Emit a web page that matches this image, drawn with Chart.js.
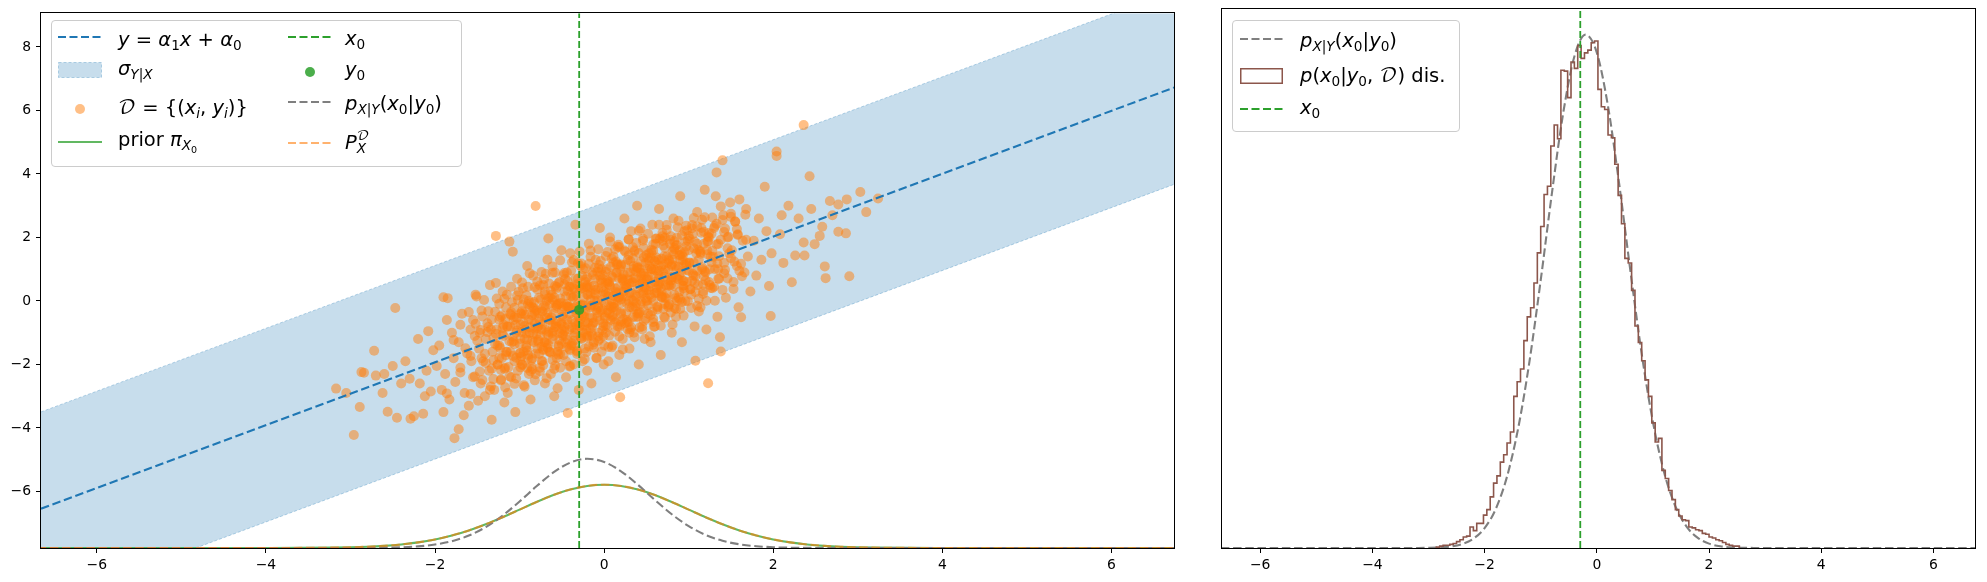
<!DOCTYPE html>
<html>
<head>
<meta charset="utf-8">
<script src="https://cdn.jsdelivr.net/npm/chart.js@4.4.1/dist/chart.umd.min.js"></script>
<style>
  body { margin:0; width:1987px; height:582px; background:#fff; overflow:hidden; position:relative; }
  canvas { position:absolute; top:0; }
  .leg { position:absolute; border:1px solid #cccccc; border-radius:4px; background:rgba(255,255,255,0.8); box-sizing:border-box; }
  .lt { position:absolute; font-family:'DejaVu Sans'; font-size:19.5px; line-height:24px; white-space:nowrap; color:#000; }
  .lt sub { font-size:70%; vertical-align:-0.28em; line-height:0; }
  .lt sup { font-size:70%; vertical-align:0.5em; line-height:0; }
  .cal { font-family:'DejaVu Math TeX Gyre','DejaVu Sans'; font-style:normal; }
  .hd { position:absolute; }
</style>
</head>
<body>
<canvas id="left" width="1190" height="582" style="left:0;width:1190px;height:582px"></canvas>
<canvas id="right" width="797" height="582" style="left:1190px;width:797px;height:582px"></canvas>

<div class="leg" style="left:51px;top:20px;width:411px;height:147px"></div>
<svg class="hd" style="left:58px;top:32px" width="44" height="10"><line x1="0" y1="5" x2="44" y2="5" stroke="#1f77b4" stroke-width="2.1" stroke-dasharray="8,3.5"/></svg>
<div class="lt" style="left:118px;top:28px"><i>y</i> = <i>α</i><sub>1</sub><i>x</i> + <i>α</i><sub>0</sub></div>
<svg class="hd" style="left:58px;top:62px" width="44" height="16"><rect x="0.5" y="0.5" width="43" height="15" fill="rgba(31,119,180,0.25)" stroke="rgba(31,119,180,0.3)" stroke-dasharray="3,2"/></svg>
<div class="lt" style="left:118px;top:57px"><i>σ</i><sub><i>Y</i>|<i>X</i></sub></div>
<svg class="hd" style="left:58px;top:99px" width="44" height="20"><circle cx="22" cy="10" r="5" fill="rgba(255,127,14,0.5)"/></svg>
<div class="lt" style="left:118px;top:96px"><span class="cal">𝒟</span> = {(<i>x</i><sub><i>i</i></sub>, <i>y</i><sub><i>i</i></sub>)}</div>
<svg class="hd" style="left:58px;top:137px" width="44" height="10"><line x1="0" y1="5" x2="44" y2="5" stroke="rgba(44,160,44,0.75)" stroke-width="2.1"/></svg>
<div class="lt" style="left:118px;top:128px">prior <i>π</i><sub><i>X</i><sub>0</sub></sub></div>

<svg class="hd" style="left:288px;top:32px" width="44" height="10"><line x1="0" y1="5" x2="44" y2="5" stroke="#2ca02c" stroke-width="2.1" stroke-dasharray="8,3.5"/></svg>
<div class="lt" style="left:345px;top:27px"><i>x</i><sub>0</sub></div>
<svg class="hd" style="left:288px;top:62px" width="44" height="20"><circle cx="22" cy="10" r="5" fill="rgba(44,160,44,0.85)"/></svg>
<div class="lt" style="left:345px;top:58px"><i>y</i><sub>0</sub></div>
<svg class="hd" style="left:288px;top:97px" width="44" height="10"><line x1="0" y1="5" x2="44" y2="5" stroke="#7f7f7f" stroke-width="2.1" stroke-dasharray="8,3.5"/></svg>
<div class="lt" style="left:345px;top:92px"><i>p</i><sub><i>X</i>|<i>Y</i></sub>(<i>x</i><sub>0</sub>|<i>y</i><sub>0</sub>)</div>
<svg class="hd" style="left:288px;top:138px" width="44" height="10"><line x1="0" y1="5" x2="44" y2="5" stroke="rgba(255,127,14,0.6)" stroke-width="2.1" stroke-dasharray="8,3.5"/></svg>
<div class="lt" style="left:345px;top:130px"><i>P</i><span style="display:inline-block;vertical-align:-0.35em;line-height:0.9;font-size:70%"><span class="cal" style="display:block">𝒟</span><i style="display:block">X</i></span></div>

<div class="leg" style="left:1232px;top:20px;width:228px;height:112px"></div>
<svg class="hd" style="left:1240px;top:34px" width="43" height="10"><line x1="0" y1="5" x2="43" y2="5" stroke="#7f7f7f" stroke-width="2.1" stroke-dasharray="8,3.5"/></svg>
<div class="lt" style="left:1300px;top:29px"><i>p</i><sub><i>X</i>|<i>Y</i></sub>(<i>x</i><sub>0</sub>|<i>y</i><sub>0</sub>)</div>
<svg class="hd" style="left:1240px;top:68px" width="43" height="16"><rect x="0.75" y="0.75" width="41.5" height="14.5" fill="none" stroke="#8c564b" stroke-width="1.5"/></svg>
<div class="lt" style="left:1300px;top:64px"><i>p</i>(<i>x</i><sub>0</sub>|<i>y</i><sub>0</sub>, <span class="cal">𝒟</span>) dis.</div>
<svg class="hd" style="left:1240px;top:104px" width="43" height="10"><line x1="0" y1="5" x2="43" y2="5" stroke="#2ca02c" stroke-width="2.1" stroke-dasharray="8,3.5"/></svg>
<div class="lt" style="left:1300px;top:96px"><i>x</i><sub>0</sub></div>

<script>
// ---- values ----
const xTicks = [-6, -4, -2, 0, 2, 4, 6];
const yTicks = [-6, -4, -2, 0, 2, 4, 6, 8];

const alpha1 = 0.99, alpha0 = 0.05;   // regression line
const bandHalf = 3.05;                // sigma band half width
const x0 = -0.295, y0 = -0.28;

// density curves (prior N(0,1) and posterior p_X|Y) sampled at curveX
const curveX   = [-6.7,-6,-5,-4.5,-4,-3.6,-3.2,-3.0,-2.8,-2.6,-2.4,-2.2,-2.0,-1.8,-1.6,-1.4,-1.2,-1.0,-0.8,-0.6,-0.4,-0.2,0,0.2,0.4,0.6,0.8,1.0,1.2,1.4,1.6,1.8,2.0,2.2,2.4,2.6,2.8,3.0,3.2,3.6,4.0,4.5,5,6,6.8];
const priorDens = [0,0,0,0.00002,0.00013,0.0006,0.0024,0.0044,0.0079,0.0136,0.0224,0.0355,0.054,0.079,0.1109,0.1497,0.1942,0.242,0.2897,0.3332,0.3683,0.391,0.3989,0.391,0.3683,0.3332,0.2897,0.242,0.1942,0.1497,0.1109,0.079,0.054,0.0355,0.0224,0.0136,0.0079,0.0044,0.0024,0.0006,0.00013,0.00002,0,0,0];
const postDens  = [0,0,0,0,0,0.000006,0.00007,0.00022,0.00065,0.00177,0.0044,0.0102,0.0218,0.0429,0.0782,0.1315,0.2043,0.2931,0.3885,0.4757,0.538,0.5619,0.5422,0.4833,0.3979,0.3026,0.2126,0.1379,0.0827,0.0457,0.0234,0.0111,0.0048,0.0019,0.0007,0.00025,0.00008,0.00002,0,0,0,0,0,0,0];

// observed sample D = {(x_i, y_i)}: spread-out points
const samples = [
[-3.17,-2.76],[-3.05,-2.9],[-2.96,-4.22],[-2.89,-3.34],[-2.87,-2.24],[-2.84,-2.26],[-2.72,-1.57],[-2.7,-2.35],
[-2.62,-2.9],[-2.6,-2.3],[-2.56,-3.49],[-2.5,-2.05],[-2.47,-0.22],[-2.45,-3.68],[-2.4,-2.6],[-2.35,-1.9],[-2.3,-2.45],[-2.29,-3.71],[-2.25,-3.63],
[-2.2,-1.2],[-2.18,-2.6],[-2.14,-3.55],[-2.12,-3.0],[-2.1,-2.2],[-2.08,-0.95],[-2.05,-2.85],[-2.02,-1.55],
[-1.98,-2.05],[-1.95,-1.4],[-1.92,-2.8],[-1.9,0.12],[-1.9,-3.5],[-1.88,-2.3],[-1.86,-0.6],[-1.85,0.09],[-1.83,-3.1],[-1.8,-1.0],[-1.78,-1.8],[-1.77,-4.32],[-1.76,-2.55],[-1.72,-4.04],
[-1.72,-1.3],[-1.7,-2.1],[-1.7,-0.75],[-1.68,-0.4],[-1.66,-3.6],[-1.65,-2.9],[-1.62,-1.65],[-1.6,-3.3],[-1.58,-0.9],[-1.57,-1.9],[-1.55,-2.4],[-1.53,-1.1],[-1.52,0.2],
[-1.48,-1.5],[-1.47,-1.0],[-1.46,-2.6],[-1.45,-0.3],[-1.43,-1.9],[-1.41,-3.0],[-1.4,-1.2],[-1.38,-0.7],[-1.36,-2.2],[-1.35,0.5],[-1.33,-3.74],[-1.32,-1.6],[-1.3,-2.8],[-1.29,-1.35],[-1.28,2.05],[-1.27,-0.9],[-1.26,-2.0],
[-1.24,-1.4],[-1.23,-0.5],[-1.22,-2.5],[-1.21,-1.8],[-1.2,0.3],[-1.19,-1.1],[-1.18,-3.2],[-1.17,-2.1],[-1.16,-0.2],[-1.15,-1.6],[-1.14,-2.9],[-1.12,1.87],[-1.11,-0.8],[-1.1,-2.4],[-1.09,-1.3],[-1.08,1.55],[-1.07,-0.6],[-1.06,-1.9],[-1.05,-3.5],[-1.04,-1.0],[-1.03,0.7],[-1.02,-2.2],
[-0.99,-1.2],[-0.98,-0.4],[-0.98,-1.75],[-0.97,-2.0],[-0.96,0.4],[-0.95,-1.6],[-0.94,-2.7],[-0.93,-0.9],[-0.92,-1.4],[-0.91,1.1],[-0.9,-0.1],[-0.89,-2.3],[-0.88,-1.0],[-0.87,-3.1],[-0.86,-0.6],[-0.85,-1.8],[-0.85,-0.45],[-0.84,0.8],[-0.83,-1.3],[-0.82,-2.5],[-0.81,2.99],[-0.8,-0.3],[-0.79,-1.5],[-0.78,-0.8],[-0.77,0.1],[-0.76,-2.1],[-0.755,-1.1],
[-0.74,-0.9],[-0.73,-1.9],[-0.72,0.5],[-0.72,-1.55],[-0.71,-1.3],[-0.7,-2.6],[-0.69,-0.2],[-0.68,-1.0],[-0.68,0.0],[-0.67,1.3],[-0.66,1.97],[-0.65,-0.6],[-0.64,-1.6],[-0.63,-2.3],[-0.62,0.2],[-0.61,-1.2],[-0.6,-0.4],[-0.6,-0.95],[-0.59,-3.0],[-0.58,0.9],[-0.57,-0.8],[-0.56,-1.8],[-0.55,-0.1],[-0.55,-2.75],[-0.54,-1.4],[-0.53,0.6],[-0.52,-2.1],[-0.51,-0.7],[-0.505,1.6],
[-0.49,-0.5],[-0.48,-1.7],[-0.47,0.3],[-0.47,-0.95],[-0.46,-1.1],[-0.45,-2.4],[-0.44,0.9],[-0.44,-1.45],[-0.43,-3.53],[-0.42,-0.2],[-0.41,-0.9],[-0.41,0.45],[-0.4,1.5],[-0.39,-1.4],[-0.38,-0.6],[-0.37,0.1],[-0.36,-2.0],[-0.36,-1.25],[-0.35,-1.0],[-0.34,2.4],[-0.33,-0.3],[-0.32,-1.6],[-0.31,0.7],[-0.3,-2.8],[-0.3,-0.5],[-0.29,-0.8],[-0.28,1.1],[-0.27,-1.2],[-0.27,0.4],[-0.26,-0.1],[-0.255,-1.9],
[-0.24,-0.4],[-0.23,-1.5],[-0.22,0.6],[-0.22,-0.65],[-0.21,-0.9],[-0.2,-2.2],[-0.2,-1.1],[-0.19,0.2],[-0.18,1.8],[-0.17,-1.1],[-0.17,0.45],[-0.16,-0.2],[-0.15,-2.6],[-0.14,0.9],[-0.13,-0.7],[-0.12,-1.3],[-0.12,-0.15],[-0.11,0.0],[-0.1,1.3],[-0.09,-1.8],[-0.08,-0.5],[-0.07,0.4],[-0.07,-1.25],[-0.06,-1.0],[-0.05,2.3],[-0.04,-0.3],[-0.03,-1.6],[-0.03,1.0],[-0.02,0.7],[-0.01,-0.8],[-0.005,-2.0],
[0.01,0.2],[0.02,-1.0],[0.03,1.0],[0.04,-0.3],[0.04,0.55],[0.05,-1.9],[0.06,0.6],[0.06,-0.15],[0.07,2.0],[0.08,-0.6],[0.09,0.0],[0.1,-1.4],[0.1,-0.45],[0.11,1.4],[0.12,-0.2],[0.13,0.4],[0.14,-2.4],[0.15,0.9],[0.15,0.25],[0.16,-0.8],[0.17,0.1],[0.18,1.7],[0.18,-1.7],[0.19,-3.03],[0.2,-0.4],[0.2,1.15],[0.21,0.7],[0.22,-1.2],[0.23,0.3],[0.24,2.6],[0.245,-0.7],
[0.26,0.5],[0.27,-0.6],[0.28,1.3],[0.28,-0.9],[0.29,0.0],[0.3,-1.5],[0.3,0.25],[0.31,0.9],[0.32,2.2],[0.33,-0.2],[0.34,0.6],[0.35,-1.0],[0.35,1.1],[0.36,1.6],[0.37,0.2],[0.38,-0.5],[0.39,3.0],[0.4,0.4],[0.41,-2.0],[0.42,1.0],[0.42,-0.35],[0.43,-0.1],[0.44,0.8],[0.45,-0.8],[0.45,0.55],[0.46,1.9],[0.47,0.3],[0.48,-1.2],[0.49,1.2],[0.495,0.0],
[0.51,0.7],[0.52,-0.4],[0.53,1.5],[0.54,0.2],[0.55,-1.3],[0.55,0.45],[0.56,1.0],[0.57,2.4],[0.58,0.0],[0.59,0.8],[0.6,-0.8],[0.6,1.25],[0.61,1.8],[0.62,0.4],[0.63,-0.2],[0.64,1.3],[0.65,2.9],[0.66,0.6],[0.67,-1.7],[0.68,1.1],[0.68,0.3],[0.69,0.1],[0.7,0.9],[0.71,-0.5],[0.72,2.0],[0.72,-0.1],[0.73,0.5],[0.74,1.4],
[0.76,1.0],[0.77,-0.1],[0.78,1.8],[0.79,0.5],[0.8,-1.0],[0.8,0.75],[0.81,1.3],[0.82,2.6],[0.83,0.2],[0.84,1.1],[0.85,-0.5],[0.86,2.0],[0.87,0.7],[0.88,0.1],[0.89,1.6],[0.9,3.3],[0.9,-0.25],[0.91,0.9],[0.92,-1.3],[0.93,1.4],[0.94,0.4],[0.95,2.2],[0.95,1.55],[0.96,0.0],[0.97,1.2],[0.98,0.6],[0.99,1.9],
[1.01,1.2],[1.03,0.2],[1.05,2.1],[1.06,0.8],[1.07,-0.8],[1.08,-1.88],[1.09,1.5],[1.1,2.8],[1.11,0.5],[1.12,1.3],[1.14,-0.2],[1.15,2.3],[1.16,1.0],[1.17,0.3],[1.18,1.8],[1.19,3.5],[1.2,0.9],[1.21,-0.9],[1.22,1.6],[1.23,-2.59],[1.24,0.6],[1.24,2.0],
[1.26,1.4],[1.28,0.4],[1.3,2.3],[1.31,1.0],[1.32,3.3],[1.33,4.05],[1.34,-0.5],[1.35,1.8],[1.36,0.7],[1.37,-1.14],[1.38,-1.59],[1.4,4.43],[1.41,2.7],[1.42,1.2],[1.44,0.1],[1.46,2.0],[1.48,1.5],[1.49,3.1],
[1.51,1.6],[1.53,0.6],[1.55,2.5],[1.57,1.1],[1.58,2.1],[1.59,-0.2],[1.6,3.2],[1.62,-0.51],[1.64,1.9],[1.66,0.9],[1.68,2.9],[1.7,1.4],[1.73,0.3],
[1.77,1.9],[1.8,0.8],[1.83,2.6],[1.86,1.3],[1.9,3.6],[1.92,2.2],[1.95,0.47],[1.97,-0.47],[1.98,1.5],
[2.04,4.71],[2.04,4.57],[2.08,2.1],[2.1,2.7],[2.12,1.2],[2.18,3.0],[2.22,0.59],
[2.26,1.43],[2.3,2.6],[2.36,1.84],[2.36,5.54],[2.37,1.43],[2.43,3.93],[2.45,2.9],[2.49,1.79],
[2.55,2.05],[2.58,2.34],[2.61,1.09],[2.62,0.72],[2.67,3.15],[2.7,2.7],
[2.77,2.18],[2.77,3.04],[2.86,2.13],[2.87,3.2],[2.9,0.78],[3.03,3.43],[3.1,2.8],[3.24,3.23]
];

// observed sample D: the dense core of the cloud
const samplesCore = [
[-1.34,-0.89],[-1.31,-1.86],[-1.29,-0.34],[-1.26,-1.41],[-1.24,-0.59],[-1.22,-2.17],[-1.2,-1.05],[-1.18,0.07],[-1.16,-1.61],[-1.14,-0.81],
[-1.12,-2.37],[-1.1,-0.35],[-1.08,-1.13],[-1.06,-0.51],[-1.04,-1.79],[-1.02,0.03],[-1.0,-1.35],[-0.99,-0.74],[-0.97,-2.02],[-0.96,-0.11],
[-0.94,-1.19],[-0.93,-0.43],[-0.91,-1.56],[-0.9,0.45],[-0.88,-0.83],[-0.87,-2.22],[-0.85,-0.2],[-0.84,-1.04],[-0.82,-0.42],[-0.81,-1.66],
[-0.79,0.36],[-0.78,-1.28],[-0.77,-0.57],[-0.75,0.05],[-0.74,-1.89],[-0.73,-0.73],[-0.71,-0.16],[-0.7,-1.3],[-0.69,0.86],[-0.67,-0.37],
[-0.66,-0.96],[-0.65,-1.6],[-0.63,0.32],[-0.62,-0.52],[-0.61,-1.01],[-0.59,0.11],[-0.58,-2.03],[-0.57,-0.22],[-0.55,-0.65],[-0.54,0.56],
[-0.53,-1.23],[-0.51,-0.06],[-0.5,-0.75],[-0.49,-0.44],[-0.48,0.82],[-0.46,-1.31],[-0.45,0.15],[-0.44,-0.59],[-0.42,-0.17],[-0.41,-1.51],
[-0.4,0.45],[-0.38,-0.83],[-0.37,-0.22],[-0.36,1.29],[-0.34,-0.89],[-0.33,0.17],[-0.32,-1.57],[-0.3,-0.3],[-0.29,0.46],[-0.28,-0.58],
[-0.26,0.79],[-0.25,-1.0],[-0.24,0.11],[-0.22,-0.32],[-0.21,0.44],[-0.2,-1.15],[-0.18,1.17],[-0.17,-0.52],[-0.16,0.04],[-0.14,-0.79],
[-0.13,0.82],[-0.12,-1.47],[-0.1,0.35],[-0.09,-0.29],[-0.08,0.02],[-0.06,1.14],[-0.05,-0.6],[-0.04,0.66],[-0.02,-0.92],[-0.01,0.29],
[0.0,-0.05],[0.02,0.92],[0.03,-0.37],[0.04,1.54],[0.06,-1.09],[0.07,0.47],[0.08,-0.17],[0.1,0.75],[0.11,0.16],[0.12,-0.58],
[0.14,1.24],[0.15,-0.3],[0.16,0.41],[0.18,-0.82],[0.19,0.99],[0.2,0.05],[0.22,0.72],[0.23,-0.57],[0.24,1.59],[0.26,0.41],
[0.27,-0.08],[0.28,0.88],[0.3,-1.0],[0.31,1.26],[0.32,0.27],[0.34,0.69],[0.35,-0.25],[0.36,1.56],[0.38,0.13],[0.39,1.09],
[0.4,-0.5],[0.42,0.52],[0.43,0.88],[0.44,-0.01],[0.46,1.96],[0.47,-0.63],[0.48,0.78],[0.5,0.35],[0.51,1.36],[0.52,-0.13],
[0.54,1.09],[0.55,0.55],[0.56,1.61],[0.58,-0.67],[0.59,0.99],[0.6,0.25],[0.62,1.37],[0.63,-0.17],[0.64,0.84],[0.66,1.96],
[0.67,0.42],[0.68,1.33],[0.7,-0.25],[0.71,0.76],[0.72,1.67],[0.74,0.24],[0.75,1.2],[0.76,0.66],[0.78,1.93],[0.79,-0.36],
[0.8,1.1],[0.82,0.47],[0.83,1.63],[0.84,0.09],[0.86,1.01],[0.87,2.32],[0.88,0.68],[0.9,1.45],[0.92,-0.03],[0.93,1.28],
[0.94,0.49],[0.96,1.86],[0.98,0.98],[1.0,1.6],[1.02,0.37],[1.04,2.29],[1.06,1.21],[1.08,0.78],[1.1,1.8],[1.12,0.07],
[1.14,1.54],[1.16,1.06],[1.18,2.18],[1.2,0.65],[1.22,1.47],[1.25,1.0],[1.27,2.12],[1.3,0.45],[1.33,1.78],[1.36,1.41],
[1.4,2.55],[1.43,0.98],[1.47,2.02],[1.5,1.35],[1.55,2.5],[1.6,0.95],
[-0.98,-0.98],[-0.95,0.05],[-0.92,-1.47],[-0.89,-0.59],[-0.86,-1.86],[-0.83,-0.23],[-0.8,-1.05],[-0.76,0.49],[-0.72,-1.52],[-0.68,-0.53],
[-0.64,0.11],[-0.6,-1.1],[-0.56,-0.16],[-0.52,-1.67],[-0.47,0.53],[-0.43,-0.73],[-0.39,0.16],[-0.35,-1.1],[-0.31,-0.11],[-0.27,1.18],
[-0.23,-0.78],[-0.19,0.41],[-0.15,-0.15],[-0.11,0.69],[-0.07,-1.12],[-0.03,0.42],[0.01,-0.49],[0.05,0.25],[0.09,1.34],[0.13,-0.67],
[0.17,0.72],[0.21,-0.04],[0.25,1.15],[0.29,-0.66],[0.33,0.58],[0.37,-0.18],[0.41,1.51],[0.45,0.6],[0.49,0.09],[0.53,1.28],
[0.57,-0.33],[0.61,0.96],[0.65,0.5],[0.69,2.04],[0.73,0.08],[0.77,1.27],[0.81,0.76],[0.85,1.75],[0.89,0.29],[0.95,1.15],
[-0.99,-0.39],[-0.9,-1.8],[-0.82,-0.72],[-0.74,-0.24],[-0.66,-1.36],[-0.58,0.47],[-0.5,-0.9],[-0.44,-0.09],[-0.38,-1.33],[-0.32,0.53],
[-0.26,-0.46],[-0.2,0.2],[-0.14,-0.54],[-0.08,0.92],[-0.02,-0.27],[0.04,0.64],[0.1,-0.5],[0.16,1.16],[0.22,0.17],[0.28,0.68],
[0.34,-0.51],[0.4,1.05],[0.46,0.26],[0.52,0.77],[0.58,1.78],[0.64,0.24],[0.7,1.15],[0.76,-0.14],[0.82,1.47],[0.88,1.08],
[0.94,0.64],[1.0,2.05],[1.05,0.85],[1.11,1.61],[1.17,0.52],[1.23,2.03],[1.29,1.39],[1.35,1.0],[1.42,2.17],
[-1.05,-0.75],[-1.11,-1.61],[-1.17,-0.57],[-1.23,-1.48],[-1.28,-1.03],[-1.33,-2.13],[-1.38,-0.98],[-1.45,-1.8],[-1.52,-0.72],[-1.58,-1.73],
[-1.64,-1.49],[-1.7,-2.25],[-1.78,-1.23],[-1.86,-2.91],
[-1.5,-1.25],[-1.47,-2.22],[-1.44,-0.49],[-1.41,-1.66],[-1.37,-0.82],[-1.34,-2.69],[-1.31,-1.16],[-1.27,0.08],[-1.24,-1.79],[-1.21,-0.46],
[-1.18,-2.13],[-1.15,-0.8],[-1.12,-1.27],[-1.09,-0.04],[-1.06,-2.61],[-1.03,-0.53],[-1.0,-1.65],[-0.97,0.58],[-0.94,-0.79],[-0.91,-2.11],
[-0.88,-0.18],[-0.85,-1.25],[-0.82,0.43],[-0.79,-0.84],[-0.76,-2.21],[-0.73,-0.33],[-0.7,0.3],[-0.67,-1.47],[-0.64,-0.59],[-0.61,1.09],
[-0.58,-0.83],[-0.55,-1.6],[-0.52,0.08],[-0.49,-1.04],[-0.46,0.69],[-0.43,-0.18],[-0.4,-2.05],[-0.37,0.43],[-0.34,-0.69],[-0.31,1.19],
[-0.28,-1.13],[-0.25,-0.15],[-0.22,0.68],[-0.19,-0.69],[-0.16,1.59],[-0.13,-1.38],[-0.1,0.2],[-0.07,-0.22],[-0.04,1.26],[-0.01,-0.71],
[0.02,0.57],[0.05,-1.45],[0.08,1.08],[0.11,-0.19],[0.14,0.29],[0.17,1.77],[0.2,-0.65],[0.23,0.63],[0.26,0.16],[0.29,1.44],
[0.32,-0.83],[0.35,1.0],[0.38,-0.07],[0.41,2.21],[0.44,0.69],[0.47,-0.28],[0.5,1.45],[0.53,0.33],[0.56,1.01],[0.59,-0.81],
[0.62,1.97],[0.65,0.7],[0.68,0.13],[0.71,1.41],[0.74,2.39],[0.77,0.47],[0.8,1.15],[0.83,-0.22],[0.86,1.76],[0.89,0.79],
[0.92,1.47],[0.95,0.3],[0.98,2.23],[1.01,1.21],[1.04,0.64],[1.07,1.87],[1.1,-0.15],[1.13,1.58],[1.16,2.56],[1.19,0.94],
[1.22,1.87],[1.25,0.5],[1.28,1.58],[1.31,2.36],[1.34,1.19],[1.38,1.93],[1.42,0.87],[1.46,1.66],[1.5,2.65],[1.54,1.24],
[1.58,2.08],[1.63,0.78],[1.68,1.93],
[-1.1,-0.45],[-1.06,-1.36],[-1.03,0.17],[-0.99,-1.89],[-0.96,-0.66],[-0.92,-1.02],[-0.89,0.01],[-0.85,-2.15],[-0.82,-0.32],[-0.78,-1.23],
[-0.75,-0.65],[-0.71,0.69],[-0.68,-1.33],[-0.64,-0.09],[-0.61,-0.76],[-0.57,0.38],[-0.54,-1.44],[-0.5,-0.3],[-0.47,-0.82],[-0.43,0.62],
[-0.4,-1.55],[-0.36,0.14],[-0.33,-0.38],[-0.29,0.36],[-0.26,-0.91],[-0.22,1.03],[-0.19,-0.14],[-0.15,-1.0],[-0.12,0.48],[-0.08,-0.38],
[-0.05,0.8],[-0.01,-1.11],[0.02,0.27],[0.06,-0.39],[0.09,0.79],[0.13,1.63],[0.16,0.01],[0.2,-0.75],[0.23,0.83],[0.27,0.42],
[0.3,-0.2],[0.34,1.69],[0.37,0.72],[0.41,-0.39],[0.44,1.24],[0.48,0.43],[0.51,1.01],[0.55,-0.45],[0.58,1.58],[0.62,0.27],
[0.65,0.95],[0.69,1.89],[0.72,0.12],[0.76,1.31],[0.79,0.64],[0.83,1.88],[0.86,0.01],[0.9,1.3],[0.93,0.63],[0.97,1.72],
[1.0,0.95],[1.04,2.39],[1.07,0.57],
[-0.7,-0.9],[-0.66,0.09],[-0.61,-1.86],[-0.57,-0.12],[-0.52,-1.02],[-0.48,-0.18],[-0.43,-1.23],[-0.39,0.96],[-0.34,-0.19],[-0.3,-0.7],
[-0.25,0.4],[-0.21,-1.61],[-0.16,0.24],[-0.12,-0.67],[-0.07,1.03],[-0.03,0.02],[0.02,-0.78],[0.06,0.51],[0.11,-0.09],[0.15,1.15],
[0.2,-0.35],[0.24,0.44],[0.29,1.94],[0.33,0.03],[0.38,0.93],[0.42,-0.83],[0.47,1.37],[0.51,0.66],[0.56,0.11],[0.6,1.25],
[0.65,0.55],[0.69,2.14]
];

// observed sample D: the outer rim of the dense cloud
const samplesRim = [
[-1.6,-0.35],[-1.58,-2.93],[-1.55,-0.6],[-1.53,-2.38],[-1.51,0.14],[-1.49,-3.14],[-1.46,-0.91],[-1.44,-2.49],[-1.42,0.03],[-1.4,-1.95],
[-1.37,-0.32],[-1.35,-2.8],[-1.33,-0.58],[-1.31,-2.46],[-1.28,0.57],[-1.26,-2.01],[-1.24,-0.09],[-1.22,-2.47],[-1.19,-0.75],[-1.17,-2.72],
[-1.15,0.2],[-1.13,-2.08],[-1.1,0.45],[-1.08,-1.73],[-1.06,-0.21],[-1.04,-2.44],[-1.01,0.29],[-0.99,-2.09],[-0.97,-0.32],[-0.95,-2.65],
[-0.92,0.18],[-0.9,-1.7],[-0.88,0.87],[-0.86,-2.06],[-0.83,-0.03],[-0.81,-2.31],[-0.79,0.61],[-0.77,-1.67],[-0.74,0.91],[-0.72,-2.02],
[-0.7,0.2],[-0.68,-2.43],[-0.65,0.55],[-0.63,-1.63],[-0.61,0.89],[-0.59,-2.14],[-0.56,0.44],[-0.54,-1.69],[-0.52,1.28],[-0.5,-1.35],
[-0.47,0.88],[-0.45,-1.9],[-0.43,0.32],[-0.41,-2.06],[-0.38,1.22],[-0.36,-1.41],[-0.34,0.71],[-0.32,-1.67],[-0.29,1.56],[-0.27,-1.17],
[-0.25,1.0],[-0.23,-1.83],[-0.2,0.75],[-0.18,-1.43],[-0.16,1.39],[-0.14,-1.09],[-0.11,1.04],[-0.09,-1.79],[-0.07,1.63],[-0.05,-1.2],
[-0.02,0.83],[0.0,-1.4],[0.02,1.42],[0.04,-0.81],[0.07,1.87],[0.09,-1.46],[0.11,1.21],[0.13,-0.97],[0.16,1.71],[0.18,-1.12],
[0.2,1.1],[0.22,-1.53],[0.25,1.55],[0.27,-0.68],[0.29,1.94],[0.31,-0.89],[0.34,1.34],[0.36,-1.14],[0.38,1.83],[0.4,-0.4],
[0.43,2.28],[0.45,-0.9],[0.47,1.67],[0.49,-0.56],[0.52,2.12],[0.54,-1.11],[0.56,1.51],[0.58,-0.57],[0.61,1.96],[0.63,-0.27],
[0.65,2.4],[0.67,-0.78],[0.7,1.75],[0.72,-0.53],[0.74,2.24],[0.76,-0.19],[0.79,2.04],[0.81,-0.74],[0.83,1.68],[0.85,-0.25],
[0.88,2.53],[0.9,0.05],[0.92,2.07],[0.94,-0.46],[0.97,2.37],[0.99,-0.01],[1.01,1.96],[1.03,-0.22],[1.06,2.61],[1.08,0.28],
[1.1,2.35],[1.12,-0.33],[1.15,2.15],[1.17,0.22],[1.19,2.64],[1.21,0.01],[1.24,2.14],[1.26,0.41],[1.28,2.63],[1.31,0.01],
[1.33,2.43],[1.35,0.7],[1.38,2.98],[1.4,0.35],[1.43,2.28],[1.46,0.71],[1.5,2.75],[1.53,0.38],[1.57,2.27],[1.62,1.17],
[1.67,2.72],
[-1.2,-0.85],[-1.16,-1.71],[-1.11,-0.41],[-1.07,-1.27],[-1.03,-0.93],[-0.99,-1.64],[-0.95,-0.4],[-0.91,-1.21],[-0.86,-0.06],[-0.82,-0.87],
[-0.78,-0.38],[-0.74,-1.44],[-0.7,-0.5],[-0.66,-1.06],[-0.61,0.04],[-0.57,-0.72],[-0.53,-0.08],[-0.49,-1.09],[-0.45,-0.15],[-0.41,-0.41],
[-0.36,0.39],[-0.32,-0.77],[-0.28,-0.13],[-0.24,-0.49],[-0.2,0.5],[-0.16,-0.86],[-0.11,0.24],[-0.07,-0.17],[-0.03,0.57],[0.01,-0.54],
[0.05,0.15],[0.09,-0.21],[0.14,0.89],[0.18,0.13],[0.22,0.67],[0.26,-0.39],[0.3,0.55],[0.35,0.0],[0.39,1.04],[0.43,0.23],
[0.47,0.87],[0.51,0.01],[0.55,1.35],[0.6,0.6],[0.64,1.14],[0.68,0.13],[0.72,0.97],[0.76,0.51],[0.81,1.56],[0.85,0.75],
[0.89,1.44],[0.93,0.48],[0.97,1.12],[1.02,0.37],[1.06,1.66],[1.1,0.95],[1.14,1.49],[1.18,0.78],[1.23,1.88],[1.27,1.22]
];

// histogram of p(x0 | y0, D) samples, density per bin
const histStart = -2.86, histWidth = 0.06;
const histHeights = [0.001,0.001,0.002,0.003,0.003,0.004,0.005,0.007,0.009,0.012,0.013,0.023,0.019,0.027,0.027,0.036,0.042,0.056,0.071,0.079,
  0.094,0.102,0.115,0.127,0.166,0.182,0.196,0.227,0.253,0.263,0.290,0.323,0.352,0.387,0.396,0.440,0.463,0.448,0.523,0.522,
  0.493,0.532,0.525,0.550,0.536,0.542,0.545,0.553,0.555,0.502,0.483,0.480,0.452,0.449,0.420,0.386,0.355,0.317,0.312,0.282,
  0.243,0.225,0.205,0.184,0.166,0.137,0.116,0.120,0.085,0.076,0.063,0.053,0.042,0.035,0.031,0.030,0.023,0.022,0.020,0.019,
  0.016,0.015,0.012,0.011,0.009,0.008,0.006,0.004,0.003,0.002];

// ---- chart setup ----
const leftX = [-6.66, 6.74], leftY = [-7.78, 9.06];
const rightX = [-6.68, 6.74], rightY = [0, 0.59];
const densScale = 5;   // densities drawn on the left panel scaled up from the bottom

const C = { blue:'#1f77b4', orange:'#ff7f0e', green:'#2ca02c', gray:'#7f7f7f', brown:'#8c564b' };
const DASH = [8.5, 3.7];
const LW = 2.1;
const tickFont = { family:'DejaVu Sans', size:13.9 };
const fmt = v => (v < 0 ? '\u2212' : '') + Math.abs(v);

const frame = {
  id: 'frame',
  afterDraw(chart) {
    const { ctx, chartArea: a } = chart;
    ctx.save();
    ctx.strokeStyle = '#000';
    ctx.lineWidth = 1;
    ctx.strokeRect(Math.round(a.left) - 0.5, Math.round(a.top) - 0.5,
                   Math.round(a.right - a.left) + 1, Math.round(a.bottom - a.top) + 1);
    ctx.restore();
  }
};

function axisX(range, ticks) {
  return {
    type: 'linear', min: range[0], max: range[1],
    afterBuildTicks: s => { s.ticks = ticks.map(v => ({ value: v })); },
    afterFit: s => { s.height = 34; },
    border: { display: false },
    grid: { drawOnChartArea: false, drawTicks: true, tickLength: 5, color: '#000', lineWidth: 1 },
    ticks: { color: '#000', font: tickFont, padding: 4, maxRotation: 0, autoSkip: false, callback: fmt }
  };
}

const line = (pts, color, extra) => Object.assign({
  data: pts, borderColor: color, borderWidth: LW, pointRadius: 0, fill: false, tension: 0
}, extra);

const lineAt = (x, off) => ({ x: x, y: alpha1 * x + alpha0 + off });
const allSamples = samples.concat(samplesCore, samplesRim);

// left panel
new Chart(document.getElementById('left'), {
  type: 'line',
  data: {
    datasets: [
      line([lineAt(leftX[0], bandHalf), lineAt(leftX[1], bandHalf)], 'rgba(31,119,180,0.3)',
           { borderWidth: 1, borderDash: [3, 2], order: 10 }),
      line([lineAt(leftX[0], -bandHalf), lineAt(leftX[1], -bandHalf)], 'rgba(31,119,180,0.3)',
           { borderWidth: 1, borderDash: [3, 2], fill: '-1', backgroundColor: 'rgba(31,119,180,0.25)', order: 10 }),
      { data: allSamples.map(p => ({ x: p[0], y: p[1] })), showLine: false, pointRadius: 5,
        pointBackgroundColor: 'rgba(255,127,14,0.5)', pointBorderWidth: 0, order: 9 },
      line([lineAt(leftX[0], 0), lineAt(leftX[1], 0)], C.blue, { borderDash: DASH, order: 8 }),
      line([{ x: x0, y: leftY[0] }, { x: x0, y: leftY[1] }], C.green, { borderWidth: 1.8, borderDash: [7, 3], order: 7 }),
      line(curveX.map((x, i) => ({ x: x, y: leftY[0] + densScale * priorDens[i] })), 'rgba(44,160,44,0.75)',
           { cubicInterpolationMode: 'monotone', order: 6 }),
      { data: [{ x: x0, y: y0 }], showLine: false, pointRadius: 5, pointBackgroundColor: 'rgba(44,160,44,0.85)',
        pointBorderWidth: 0, order: 5 },
      line(curveX.map((x, i) => ({ x: x, y: leftY[0] + densScale * postDens[i] })), C.gray,
           { borderDash: DASH, cubicInterpolationMode: 'monotone', order: 4 }),
      line(curveX.map((x, i) => ({ x: x, y: leftY[0] + densScale * priorDens[i] })), 'rgba(255,127,14,0.6)',
           { borderDash: DASH, cubicInterpolationMode: 'monotone', order: 3 })
    ]
  },
  options: {
    responsive: false, animation: false,
    layout: { padding: { top: 9, right: 16, bottom: 0, left: 0 } },
    plugins: { legend: { display: false }, tooltip: { enabled: false } },
    scales: {
      x: axisX(leftX, xTicks),
      y: {
        type: 'linear', min: leftY[0], max: leftY[1],
        afterBuildTicks: s => { s.ticks = yTicks.map(v => ({ value: v })); },
        afterFit: s => { s.width = 41; },
        border: { display: false },
        grid: { drawOnChartArea: false, drawTicks: true, tickLength: 5, color: '#000', lineWidth: 1 },
        ticks: { color: '#000', font: tickFont, padding: 5, autoSkip: false, callback: fmt }
      }
    }
  },
  plugins: [frame]
});

// right panel: histogram drawn as a step outline
const histPts = [{ x: histStart, y: 0 }];
histHeights.forEach((h, i) => histPts.push({ x: histStart + i * histWidth, y: h }));
const histEnd = histStart + histHeights.length * histWidth;
histPts.push({ x: histEnd, y: histHeights[histHeights.length - 1] });
histPts.push({ x: histEnd, y: 0 });

new Chart(document.getElementById('right'), {
  type: 'line',
  data: {
    datasets: [
      line(curveX.map((x, i) => ({ x: x, y: postDens[i] })), C.gray,
           { borderDash: DASH, cubicInterpolationMode: 'monotone', order: 3 }),
      line(histPts, C.brown, { stepped: 'after', borderWidth: 1.6, order: 2 }),
      line([{ x: x0, y: rightY[0] }, { x: x0, y: rightY[1] }], C.green, { borderWidth: 1.8, borderDash: [7, 3], order: 1 })
    ]
  },
  options: {
    responsive: false, animation: false,
    layout: { padding: { top: 9, right: 12, bottom: 0, left: 32 } },
    plugins: { legend: { display: false }, tooltip: { enabled: false } },
    scales: {
      x: axisX(rightX, xTicks),
      y: { type: 'linear', min: rightY[0], max: rightY[1], display: false }
    }
  },
  plugins: [frame]
});
</script>
</body>
</html>
